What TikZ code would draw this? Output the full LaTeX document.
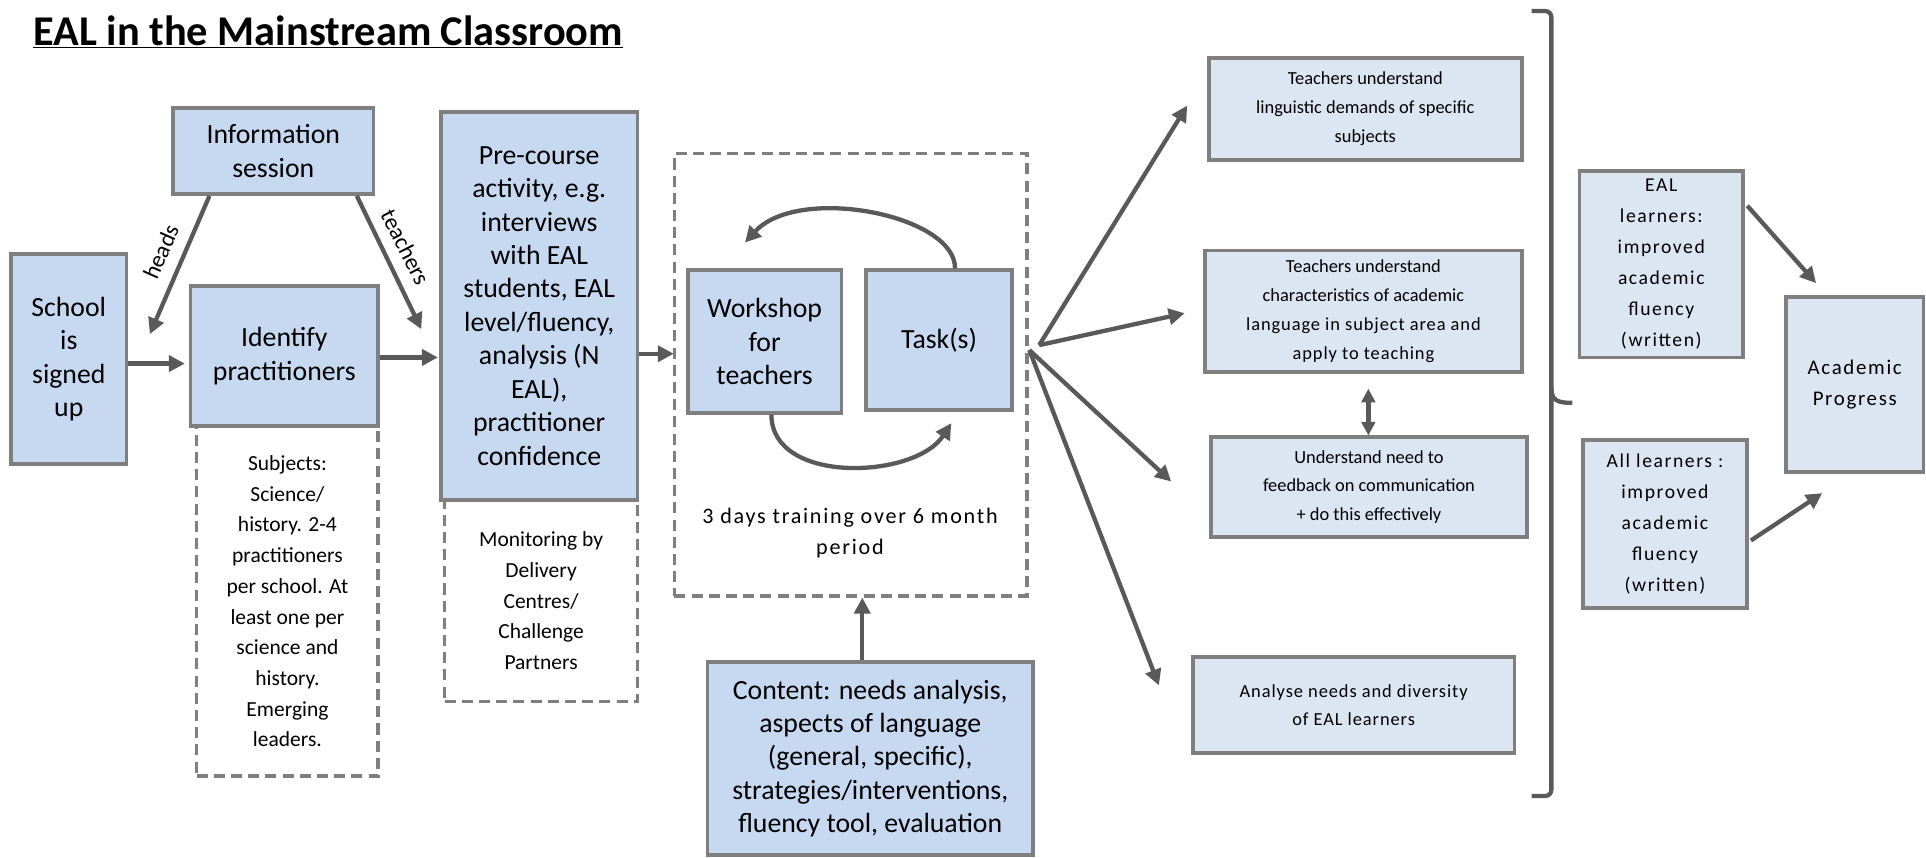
\documentclass[tikz,border=0pt]{standalone}
\usepackage{fontspec}
\setmainfont{Carlito}
\newfontfamily\spaced[LetterSpace=8]{Carlito}
\newfontfamily\spacedb[LetterSpace=5]{Carlito}
\usetikzlibrary{arrows.meta,calc}
\definecolor{bluefill}{HTML}{C6D9F1}
\definecolor{paleblue}{HTML}{DCE6F2}
\definecolor{bordergray}{HTML}{7F7F7F}
\definecolor{arrowgray}{HTML}{595959}
\begin{document}
\begin{tikzpicture}[x=1pt,y=-1pt,
  box/.style={draw=bordergray, line width=3pt, fill=bluefill, align=center, inner sep=2pt},
  outbox/.style={box, fill=paleblue},
  dbox/.style={draw=bordergray, line width=3pt, dash pattern=on 9pt off 5pt, align=center, inner sep=2pt},
  big/.style={font=\fontsize{22.6}{27.2}\selectfont},
  mid/.style={font=\fontsize{17.5}{25}\selectfont},
  small/.style={font=\fontsize{15}{23.5}\selectfont},
  smallsp/.style={font=\fontsize{15}{23}\spacedb\selectfont},
  sp/.style={font=\fontsize{16}{25.2}\spaced\selectfont},
  arr/.style={draw=arrowgray, line width=3.5pt, -{Triangle[length=13pt,width=13pt]}},
  dblarr/.style={draw=arrowgray, line width=3.5pt, {Triangle[length=11pt,width=11pt]}-{Triangle[length=11pt,width=11pt]}},
  brace/.style={draw=arrowgray, line width=3.5pt},
]
\useasboundingbox (0,0) rectangle (1568,698);

% title
\node[anchor=base west, inner sep=0pt, font=\fontsize{34.5}{40}\bfseries\selectfont] (title) at (27,37) {\underline{EAL in the Mainstream Classroom}};

% dashed boxes first
\node[dbox, mid, minimum width=148, minimum height=285] (subj) at (234,489.5) {Subjects:\\Science/\\history. 2-4\\practitioners\\per school. At\\least one per\\science and\\history.\\Emerging\\leaders.};
\node[dbox, mid, minimum width=157, minimum height=164] (mon) at (440.5,489) {Monitoring by\\Delivery\\Centres/\\Challenge\\Partners};
\node[dbox, minimum width=287, minimum height=360] (train) at (692.5,305) {};
\node[font=\fontsize{18}{25}\spaced\selectfont, align=center] (days) at (692,434) {3 days training over 6 month\\period};

% left boxes
\node[box, big, minimum width=94, minimum height=171] (school) at (56,292.5) {School\\is\\signed\\up};
\node[box, big, minimum width=163, minimum height=70] (info) at (222.5,123) {Information\\session};
\node[box, big, minimum width=153, minimum height=114] (ident) at (231.5,290) {Identify\\practitioners};
\node[box, big, minimum width=160, minimum height=316] (pre) at (439,249) {Pre-course\\activity, e.g.\\interviews\\with EAL\\students, EAL\\level/fluency,\\analysis (N\\EAL),\\practitioner\\confidence};
\node[box, big, minimum width=125, minimum height=116] (work) at (622.5,278) {Workshop\\for\\teachers};
\node[box, big, minimum width=119, minimum height=114] (task) at (764.5,277) {Task(s)};
\node[box, big, minimum width=265, minimum height=157] (content) at (708.5,617.5) {Content: needs analysis,\\aspects of language\\(general, specific),\\strategies/interventions,\\fluency tool, evaluation};

% outcome boxes
\node[outbox, small, minimum width=255, minimum height=83] (o1) at (1111.5,88.5) {Teachers understand\\linguistic demands of specific\\subjects};
\node[outbox, small, minimum width=258, minimum height=99] (o2) at (1110,253.5) {Teachers understand\\characteristics of academic\\{\spacedb language in subject area and}\\{\spacedb apply to teaching}};
\node[outbox, small, minimum width=257, minimum height=81] (o3) at (1114.5,396.5) {Understand need to\\feedback on communication\\+ do this effectively};
\node[outbox, smallsp, minimum width=262, minimum height=78] (o4) at (1102,574) {Analyse needs and diversity\\of EAL learners};

\node[outbox, sp, minimum width=133, minimum height=152] (eal) at (1352.5,215) {EAL\\learners:\\improved\\academic\\fluency\\(written)};
\node[outbox, sp, minimum width=133, minimum height=137] (all) at (1355.5,426.5) {All learners :\\improved\\academic\\fluency\\(written)};
\node[outbox, font=\fontsize{17}{25}\spaced\selectfont, minimum width=112, minimum height=142] (acad) at (1510,313) {Academic\\Progress};

% coordinates
\coordinate (headsEnd) at (122,272);
\coordinate (teachEnd) at (343,268);
\coordinate (fanA) at (846,281);
\coordinate (fanB) at (838,285);
\coordinate (cstart) at ($(content.north)+(-6.5,0)$);

% connectors
\draw[arr, shorten >=3pt] (school.east |- 0,296) -- (ident.west |- 0,296);
\draw[arr] ($(info.south west)+(31,0)$) -- (headsEnd);
\draw[arr] ($(info.south east)+(-15,0)$) -- (teachEnd);
\draw[arr, shorten >=1pt] ($(ident.east)+(0,1)$) -- ($(pre.west |- ident.east)+(0,1)$);
\draw[arr, shorten >=-1pt] ($(pre.east)+(0,39)$) -- ($(train.west |- pre.east)+(0,39)$);
\node[rotate=66, font=\fontsize{19}{22}\selectfont, inner sep=0pt] (lh) at (131,205) {heads};
\node[rotate=-63, font=\fontsize{19}{22}\selectfont, inner sep=0pt] (lt) at (330,201) {teachers};

\draw[arr] ($(task.north)+(13,0)$) .. controls (778,175) and (650,150) .. ($(work.north)+(-16,-21)$);
\draw[arr] ($(work.south)+(5.5,0)$) .. controls (628,395) and (745,390) .. ($(task.south)+(10,9)$);
\draw[arr] (cstart) -- (cstart |- train.south);

\draw[arr] (fanA) -- ($(o1.west)+(-16,-2.5)$);
\draw[arr] (fanA) -- ($(o2.west)+(-15,1.5)$);
\draw[arr] (fanB) -- ($(o3.west)+(-31,-4.5)$);
\draw[arr] (fanB) -- ($(o4.west)+(-26,-16)$);
\draw[dblarr, shorten >=12pt] (o3.north -| 1114,0) -- (o2.south -| 1114,0);

\draw[arr] ($(eal.north east)+(2,30)$) -- ($(acad.north west)+(26,-10)$);
\draw[arr] ($(all.east)+(2,13.5)$) -- ($(acad.south west)+(31,16)$);

% bracket
\draw[brace, rounded corners=5pt] (1247,9) -- (1263,9) -- (1263,648) -- (1247,648);
\draw[brace] (1263,316) .. controls (1263,326) and (1268,328) .. (1280,328);
\end{tikzpicture}
\end{document}
